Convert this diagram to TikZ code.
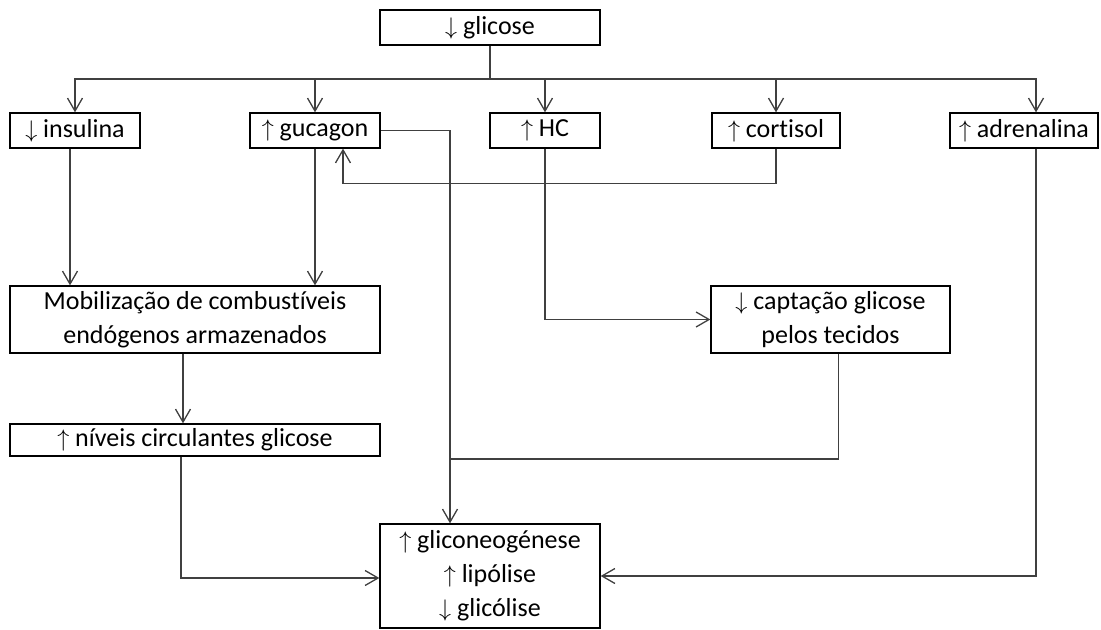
\documentclass[tikz,border=0pt]{standalone}
\usepackage{amsmath}
\usepackage{amssymb}
\usepackage{fontspec}
\setmainfont{Carlito}[Ligatures=NoCommon]
\newcommand{\sobe}{$\uparrow$}
\newcommand{\desce}{$\downarrow$}
\usetikzlibrary{arrows.meta}

\begin{document}
\begin{tikzpicture}[x=0.5pt,y=-0.5pt,line width=0.65pt,
	box/.style={draw=black,inner sep=0pt,minimum height=17.5pt,font=\fontsize{13}{17}\selectfont,align=center},
	arr/.style={draw=black!75,-{Straight Barb[length=6.5pt,width=7.5pt]}},
	lin/.style={draw=black!75}]
				\useasboundingbox (0,0) rectangle (1101,630);
				\node[box,minimum width=110pt] (glicose) at (490,27.5) {\desce{} glicose};
				\node[box,minimum width=65pt] (insulina) at (75,130.5) {\desce{} insulina};
				\node[box,minimum width=65pt] (gucagon) at (315,130.5) {\sobe{} gucagon};
				\node[box,minimum width=55pt] (hc) at (545,130.5) {\sobe{} HC};
				\node[box,minimum width=64pt] (cortisol) at (776,130.5) {\sobe{} cortisol};
				\node[box,minimum width=74pt] (adrenalina) at (1024,130.5) {\sobe{} adrenalina};
				\node[box,minimum width=185pt,minimum height=33.5pt] (mobilizacao) at (195,319.5) {Mobilização de combustíveis\\endógenos armazenados};
				\node[box,minimum width=119.5pt,minimum height=33.5pt] (captacao) at (830.5,319.5) {\desce{} captação glicose\\pelos tecidos};
				\node[box,minimum width=185pt,minimum height=16pt] (niveis) at (195,440) {\sobe{} níveis circulantes glicose};
				\node[box,minimum width=110pt,minimum height=52pt] (efeitos) at (490,576) {\sobe{} gliconeogénese\\\sobe{} lipólise\\\desce{} glicólise};
				\coordinate (bus) at (490,79);
				\coordinate (juncao) at (450,459);
				% glicose para as hormonas
				\draw[lin] (glicose.south) -- (bus);
				\draw[arr] (bus) -| (insulina.north);
				\draw[arr] (bus) -| (gucagon.north);
				\draw[arr] (bus) -| (hc.north);
				\draw[arr] (bus) -| (cortisol.north);
				\draw[arr] (bus) -| ([xshift=6pt]adrenalina.north);
				% efeitos
				\draw[arr] ([xshift=-2.5pt]insulina.south) -- ([xshift=-2.5pt]insulina.south |- mobilizacao.north);
				\draw[arr] (gucagon.south) -- (gucagon.south |- mobilizacao.north);
				\draw[arr] (gucagon.east) -| ([xshift=-20pt]efeitos.north);
				\draw[arr] (cortisol.south) -- ++(0,35) -| ([xshift=14pt]gucagon.south);
				\draw[arr] (hc.south) |- (captacao.west);
				\draw[lin] ([xshift=4pt]captacao.south) |- (juncao);
				\draw[arr] ([xshift=-6pt]mobilizacao.south) -- ([xshift=-6pt]niveis.north);
				\draw[arr] ([xshift=-7pt]niveis.south) |- ([yshift=-1pt]efeitos.west);
				\draw[arr] ([xshift=6pt]adrenalina.south) |- (efeitos.east);
			\end{tikzpicture}
\end{document}
